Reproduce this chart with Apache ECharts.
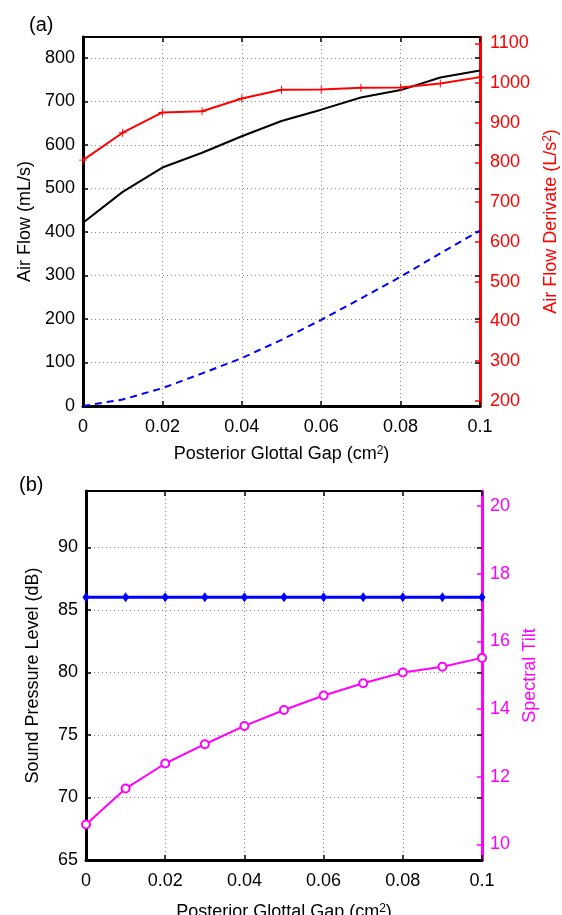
<!DOCTYPE html>
<html>
<head>
<meta charset="utf-8">
<script src="https://cdn.jsdelivr.net/npm/echarts@6/dist/echarts.min.js"></script>
<style>
html,body{margin:0;padding:0;background:#fff;}
#chart{width:562px;height:915px;}
</style>
</head>
<body>
<div id="chart"></div>
<script>
// ---- data ----
const gap = [0, 0.01, 0.02, 0.03, 0.04, 0.05, 0.06, 0.07, 0.08, 0.09, 0.1];
const airFlow = [421, 492, 548, 582, 620, 655, 681, 709, 726, 755, 771];
const leakFlow = [0, 15, 41, 75, 110, 152, 198, 247, 297, 351, 403];
const airFlowDerivate = [806, 875, 926, 929, 961, 983, 984, 988, 989, 999, 1015];
const spl = [86, 86, 86, 86, 86, 86, 86, 86, 86, 86, 86];
const spectralTilt = [10.59, 11.65, 12.39, 12.96, 13.50, 13.97, 14.40, 14.76, 15.08, 15.25, 15.51];

const xTitle = 'Posterior Glottal Gap (cm{sup|2})';
const panelLabels = ['(a)', '(b)'];

// ---- chart ----
const FONT = '"Liberation Sans", Arial, Helvetica, sans-serif';
const pair = (ys) => gap.map((x, i) => [x, ys[i]]);
const plusPath = 'path://M-1,-0.12H1V0.12H-1Z M-0.12,-1H0.12V1H-0.12Z';
const plain = (v) => String(+v.toFixed(6));

const gridLine = { show: true, showMinLine: false, showMaxLine: false, lineStyle: { color: '#8a8a8a', width: 1, type: [1, 3] } };
const lbl = (color, margin) => ({ color: color, fontSize: 18, fontFamily: FONT, margin: margin, formatter: plain });
const tickIn = (color) => ({ show: true, inside: true, length: 5, lineStyle: { color: color, width: 1.5 } });

function xMain(gridIndex, nameGap) {
  return {
    type: 'value', gridIndex: gridIndex, min: 0, max: 0.1, interval: 0.02,
    position: 'bottom',
    axisLine: { show: true, onZero: false, lineStyle: { color: '#000', width: 3 } },
    axisTick: tickIn('#000'),
    axisLabel: lbl('#000', 12),
    splitLine: gridLine,
    name: xTitle, nameLocation: 'middle', nameGap: nameGap,
    nameTextStyle: { color: '#000', fontSize: 18, fontFamily: FONT, rich: { sup: { fontSize: 12, fontFamily: FONT, verticalAlign: 'top', color: '#000' } } }
  };
}
function xTop(gridIndex) {
  return {
    type: 'value', gridIndex: gridIndex, min: 0, max: 0.1, interval: 0.02, position: 'top',
    axisLine: { show: false, onZero: false }, axisTick: tickIn('#000'),
    axisLabel: { show: false }, splitLine: { show: false }
  };
}
function mirrorY(gridIndex, min, max, interval) {
  return {
    type: 'value', gridIndex: gridIndex, position: 'right', min: min, max: max, interval: interval,
    axisLine: { show: false, onZero: false }, axisTick: tickIn('#000'),
    axisLabel: { show: false }, splitLine: { show: false }
  };
}

const gridA = { left: 83, top: 37, width: 397, height: 369, outerBoundsMode: 'none', containLabel: false };
const gridB = { left: 86, top: 491, width: 396, height: 369, outerBoundsMode: 'none', containLabel: false };

const option = {
  animation: false,
  backgroundColor: '#fff',
  textStyle: { fontFamily: FONT },
  title: [
    { text: panelLabels[0], left: 24, top: 10, textStyle: { fontSize: 20, fontWeight: 'normal', color: '#000', fontFamily: FONT } },
    { text: panelLabels[1], left: 14, top: 470, textStyle: { fontSize: 20, fontWeight: 'normal', color: '#000', fontFamily: FONT } }
  ],
  grid: [
    Object.assign({ show: true, borderColor: '#000', borderWidth: 2, backgroundColor: 'transparent' }, gridA),
    Object.assign({ show: true, borderColor: '#000', borderWidth: 2, backgroundColor: 'transparent' }, gridB),
    Object.assign({ show: false }, gridA),
    Object.assign({ show: false }, gridB)
  ],
  xAxis: [xMain(0, 39), xMain(1, 43), xTop(0), xTop(1)],
  yAxis: [
    { // 0 top left
      type: 'value', gridIndex: 0, position: 'left', min: 0, max: 848, interval: 100,
      axisLine: { show: true, onZero: false, lineStyle: { color: '#000', width: 3 } },
      axisTick: tickIn('#000'),
      axisLabel: Object.assign(lbl('#000', 8), { showMaxLabel: false }),
      splitLine: gridLine,
      name: 'Air Flow (mL/s)', nameLocation: 'middle', nameGap: 47, nameRotate: 90,
      nameTextStyle: { color: '#000', fontSize: 18, fontFamily: FONT }
    },
    { // 1 top right
      type: 'value', gridIndex: 0, position: 'right', min: 187, max: 1116, splitNumber: 9,
      axisLine: { show: true, onZero: false, lineStyle: { color: '#ff0000', width: 3 } },
      axisTick: tickIn('#ff0000'),
      axisLabel: Object.assign(lbl('#ff0000', 10), { showMinLabel: false, showMaxLabel: false }),
      splitLine: { show: false },
      name: 'Air Flow Derivate (L/s{sup|2})', nameLocation: 'middle', nameGap: 62, nameRotate: 90,
      nameTextStyle: { color: '#ff0000', fontSize: 18, fontFamily: FONT, rich: { sup: { fontSize: 12, fontFamily: FONT, verticalAlign: 'top', color: '#ff0000' } } }
    },
    { // 2 bottom left
      type: 'value', gridIndex: 1, position: 'left', min: 65, max: 94.5, interval: 5,
      axisLine: { show: true, onZero: false, lineStyle: { color: '#000', width: 3 } },
      axisTick: tickIn('#000'),
      axisLabel: Object.assign(lbl('#000', 8), { showMaxLabel: false }),
      splitLine: gridLine,
      name: 'Sound Pressure Level (dB)', nameLocation: 'middle', nameGap: 44, nameRotate: 90,
      nameTextStyle: { color: '#000', fontSize: 18, fontFamily: FONT }
    },
    { // 3 bottom right
      type: 'value', gridIndex: 1, position: 'right', min: 9.54, max: 20.44, splitNumber: 5,
      axisLine: { show: true, onZero: false, lineStyle: { color: '#ff00ff', width: 3 } },
      axisTick: tickIn('#ff00ff'),
      axisLabel: Object.assign(lbl('#ff00ff', 8), { showMinLabel: false, showMaxLabel: false }),
      splitLine: { show: false },
      name: 'Spectral Tilt', nameLocation: 'middle', nameGap: 37, nameRotate: 90,
      nameTextStyle: { color: '#ff00ff', fontSize: 18, fontFamily: FONT }
    },
    mirrorY(2, 0, 848, 100),
    mirrorY(3, 65, 94.5, 5)
  ],
  series: [
    {
      name: 'Air Flow', type: 'line', xAxisIndex: 0, yAxisIndex: 0, data: pair(airFlow),
      symbol: 'none', lineStyle: { color: '#000', width: 2 }, itemStyle: { color: '#000' }, z: 3
    },
    {
      name: 'Leak Flow', type: 'line', xAxisIndex: 0, yAxisIndex: 0, data: pair(leakFlow),
      symbol: 'none', lineStyle: { color: '#0000ff', width: 2, type: [7, 5] }, itemStyle: { color: '#0000ff' }, z: 3
    },
    {
      name: 'Air Flow Derivate', type: 'line', xAxisIndex: 0, yAxisIndex: 1, data: pair(airFlowDerivate),
      symbol: plusPath, symbolSize: 8, showAllSymbol: true,
      lineStyle: { color: '#ff0000', width: 2 }, itemStyle: { color: '#ff0000' }, z: 4
    },
    {
      name: 'Sound Pressure Level', type: 'line', xAxisIndex: 1, yAxisIndex: 2, data: pair(spl),
      symbol: 'diamond', symbolSize: [7, 10], showAllSymbol: true,
      lineStyle: { color: '#0000ff', width: 3 }, itemStyle: { color: '#0000ff' }, z: 4
    },
    {
      name: 'Spectral Tilt', type: 'line', xAxisIndex: 1, yAxisIndex: 3, data: pair(spectralTilt),
      symbol: 'emptyCircle', symbolSize: 8, showAllSymbol: true,
      lineStyle: { color: '#ff00ff', width: 2 }, itemStyle: { color: '#ff00ff', borderColor: '#ff00ff', borderWidth: 1.5 }, z: 4
    }
  ]
};
// hidden x axes for the tick-mirror grids
option.xAxis.push(
  { type: 'value', gridIndex: 2, min: 0, max: 0.1, show: false },
  { type: 'value', gridIndex: 3, min: 0, max: 0.1, show: false }
);

const chart = echarts.init(document.getElementById('chart'), null, { renderer: 'canvas' });
chart.setOption(option);
</script>
</body>
</html>
